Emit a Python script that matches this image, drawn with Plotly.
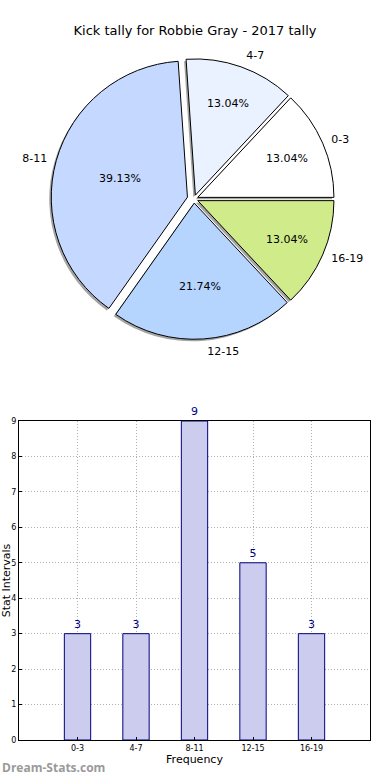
import plotly.graph_objects as go

categories = ["0-3", "4-7", "8-11", "12-15", "16-19"]
counts = [3, 3, 9, 5, 3]
pie_colors = ["#ffffff", "#eaf1ff", "#c5d8ff", "#b5d5ff", "#d0eb8a"]
pulls = [0.03, 0.03, 0.05, 0.03, 0.03]
y_ticks = [0, 1, 2, 3, 4, 5, 6, 7, 8, 9]

W, H = 390, 780
cx, cy, R = 194, 199, 143
# start first slice at 3 o'clock going counterclockwise (matplotlib default)
rot = 90 - 360 * counts[0] / sum(counts)

def dom(dx=0, dy=0, r=R):
    return dict(x=[(cx - r + dx) / W, (cx + r + dx) / W],
                y=[(H - cy - r - dy) / H, (H - cy + r - dy) / H])

fig = go.Figure()
# shadow
fig.add_trace(go.Pie(labels=categories, values=counts, sort=False,
                     direction="counterclockwise", rotation=rot, pull=pulls,
                     marker=dict(colors=["rgba(90,90,90,0.55)"] * 5, line=dict(width=0)),
                     textinfo="none", hoverinfo="skip", showlegend=False,
                     domain=dom(-2, 2)))
# main pie with percentages inside
fig.add_trace(go.Pie(labels=categories, values=counts, sort=False,
                     direction="counterclockwise", rotation=rot, pull=pulls,
                     marker=dict(colors=pie_colors, line=dict(color="#000000", width=1)),
                     texttemplate="%{percent:.2%}", textposition="inside",
                     insidetextorientation="horizontal",
                     textfont=dict(size=11, color="#000000", family="DejaVu Sans"),
                     showlegend=False, domain=dom()))
# outside labels (slightly larger transparent pie to push labels outward)
fig.add_trace(go.Pie(labels=categories, values=counts, sort=False,
                     direction="counterclockwise", rotation=rot, pull=pulls,
                     marker=dict(colors=["rgba(0,0,0,0)"] * 5, line=dict(width=0)),
                     textinfo="label", textposition="outside",
                     textfont=dict(size=11, color="#000000", family="DejaVu Sans"),
                     hoverinfo="skip", showlegend=False, domain=dom(r=R + 6)))

fig.add_trace(go.Bar(x=categories, y=counts, width=0.45,
                     marker=dict(color="#ccccee", line=dict(color="#000080", width=1)),
                     text=counts, textposition="outside", cliponaxis=False,
                     textfont=dict(size=11, color="#000080", family="DejaVu Sans"),
                     showlegend=False, xaxis="x", yaxis="y"))

fig.update_layout(
    width=W, height=H,
    margin=dict(l=0, r=0, t=0, b=0),
    paper_bgcolor="white", plot_bgcolor="white",
    font=dict(family="DejaVu Sans", color="#000000"),
    title=dict(text="Kick tally for Robbie Gray - 2017 tally", x=0.5, xanchor="center",
               y=1 - 30 / H, yanchor="middle", font=dict(size=13)),
    xaxis=dict(domain=[19 / W, 370 / W], range=[-1, 5], type="category",
               showline=True, linecolor="#000000", mirror=True, automargin=False,
               showgrid=True, gridcolor="#b0b0b0", griddash="1px,2px", gridwidth=1,
               ticks="inside", ticklen=3, tickcolor="#000000", tickfont=dict(size=8),
               title=dict(text="Frequency", font=dict(size=11), standoff=2),
               anchor="y", fixedrange=True),
    yaxis=dict(domain=[40 / H, 359 / H], range=[0, 9], tickvals=y_ticks,
               showline=True, linecolor="#000000", mirror=True, automargin=False,
               showgrid=True, gridcolor="#b0b0b0", griddash="1px,2px", gridwidth=1,
               ticks="inside", ticklen=3, tickcolor="#000000", tickfont=dict(size=8),
               zeroline=False,
               title=dict(text="Stat Intervals", font=dict(size=11), standoff=2),
               anchor="x", fixedrange=True),
    annotations=[dict(text="<b>Dream-Stats.com</b>", x=0, y=2 / H, xref="paper", yref="paper",
                      xanchor="left", yanchor="bottom", showarrow=False,
                      font=dict(size=12, color="#9a9a9a", family="Open Sans"))],
)

fig.write_html("out.html", config={"displayModeBar": False},
               post_script="document.body.style.margin='0';")
